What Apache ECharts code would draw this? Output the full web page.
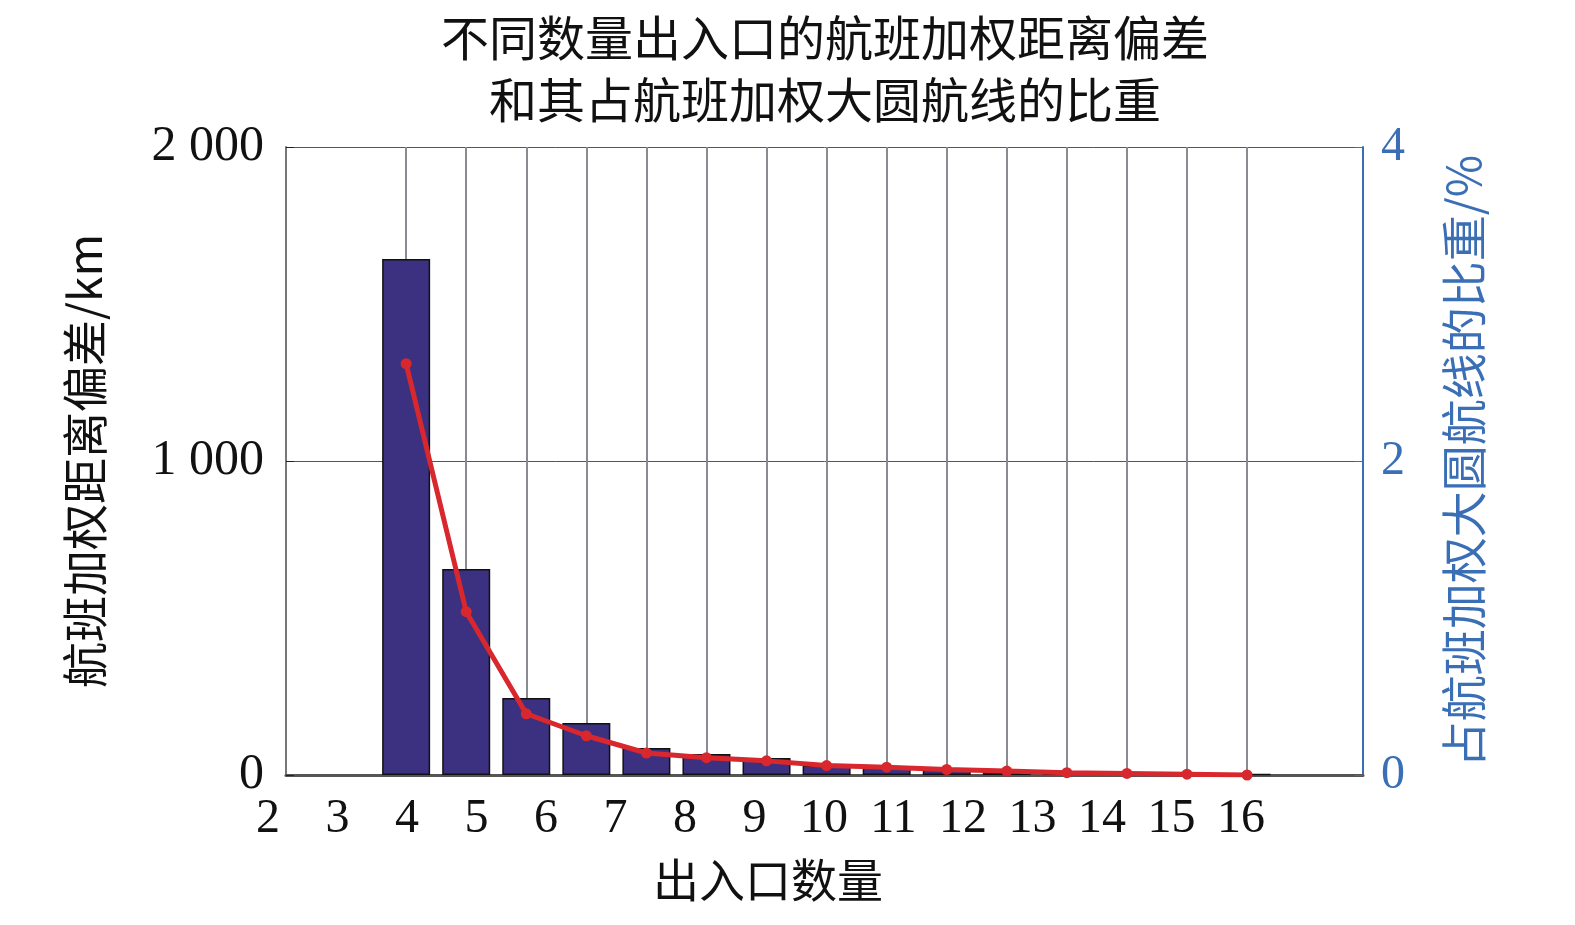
<!DOCTYPE html>
<html><head><meta charset="utf-8">
<script src="https://cdn.jsdelivr.net/npm/echarts@6/dist/echarts.min.js"></script>
<style>html,body{margin:0;padding:0;background:#fff}#c{width:1575px;height:925px}</style>
</head><body><div id="c"></div>
<script>
const xValues = [4,5,6,7,8,9,10,11,12,13,14,15,16,17,18];
const deviationKm = [1643,656,245,166,86,67,54,30,25,18,14,10,7,5,3];
const sharePct = [2.62,1.04,0.39,0.25,0.14,0.11,0.09,0.06,0.05,0.035,0.025,0.015,0.01,0.005,0.0];
const tickLabels = [2,3,4,5,6,7,8,9,10,11,12,13,14,15,16];

const serif = '"Liberation Serif","DejaVu Serif",serif';
const cjk = '"Noto Sans CJK SC","Liberation Serif",serif';
const blue = '#3a6fb5';
const chart = echarts.init(document.getElementById('c'));
chart.setOption({
  animation:false,
  title:{text:'不同数量出入口的航班加权距离偏差\n和其占航班加权大圆航线的比重',left:820,textAlign:'center',top:2,
    textStyle:{fontFamily:cjk,fontSize:48,fontWeight:'normal',color:'#111',lineHeight:62}},
  grid:[{left:286,right:212,top:147,bottom:150},{left:268,width:1000,top:774,height:1}],
  xAxis:[{type:'value',gridIndex:0,min:2,max:19.93,
      axisLine:{show:true,lineStyle:{color:'#555',width:2}},axisTick:{show:true,customValues:xValues,inside:true,length:5,lineStyle:{color:'#222',width:2}},
      axisLabel:{show:false},splitLine:{show:true,lineStyle:{color:'#8a8a90',width:2}}},
    {type:'value',gridIndex:1,min:2,max:16.39,interval:1,position:'bottom',
      axisLine:{show:false},axisTick:{show:false},splitLine:{show:false},
      axisLabel:{show:true,customValues:tickLabels,margin:20,fontFamily:serif,fontSize:48,color:'#111'},
      name:'出入口数量',nameLocation:'middle',nameGap:82,nameTextStyle:{fontFamily:cjk,fontSize:46,color:'#111'}},
    {type:'value',gridIndex:0,position:'top',min:0,max:1,axisLine:{show:true,lineStyle:{color:'#555',width:3}},axisTick:{show:false},axisLabel:{show:false},splitLine:{show:false}}],
  yAxis:[{type:'value',gridIndex:0,min:0,max:2000,interval:1000,
      axisLine:{show:true,lineStyle:{color:'#777',width:2}},axisTick:{show:true,inside:true,length:8,lineStyle:{color:'#222'}},
      axisLabel:{fontFamily:serif,fontSize:50,color:'#111',margin:22,formatter:v=>v===0?'0':(v/1000)+' 000'},
      splitLine:{show:true,lineStyle:{color:'#555',width:1}},
      name:'航班加权距离偏差/km',nameLocation:'middle',nameGap:178,nameRotate:90,nameTextStyle:{fontFamily:cjk,fontSize:46,color:'#111'}},
    {type:'value',gridIndex:0,min:0,max:4,interval:2,position:'right',
      axisLine:{show:true,lineStyle:{color:blue,width:2}},axisTick:{show:true,inside:true,length:8,lineStyle:{color:blue}},
      axisLabel:{fontFamily:serif,fontSize:48,color:blue,margin:18},splitLine:{show:false},
      name:'占航班加权大圆航线的比重/%',nameLocation:'middle',nameGap:78,nameRotate:90,nameTextStyle:{fontFamily:cjk,fontSize:46,color:blue}},
    {type:'value',gridIndex:1,show:false}],
  series:[
    {type:'bar',xAxisIndex:0,yAxisIndex:0,barWidth:48,data:xValues.map((x,i)=>[x,deviationKm[i]]),
      itemStyle:{color:'#3b3180',borderColor:'#111',borderWidth:1.5}},
    {type:'line',xAxisIndex:0,yAxisIndex:1,data:xValues.map((x,i)=>[x,sharePct[i]]),
      symbol:'circle',symbolSize:11,lineStyle:{color:'#d9272e',width:5},itemStyle:{color:'#d9272e'},z:5}
  ]
});
</script></body></html>
